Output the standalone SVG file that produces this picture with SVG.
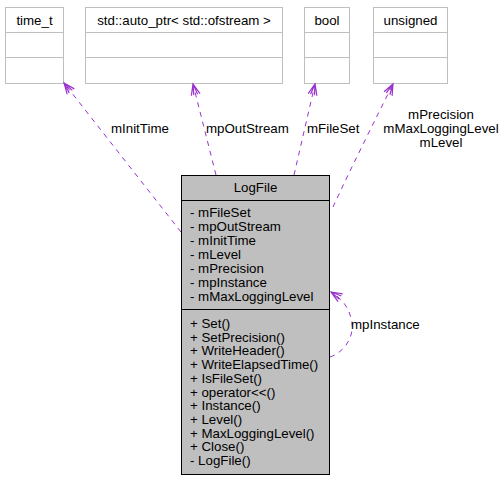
<svg xmlns="http://www.w3.org/2000/svg" width="501" height="480" viewBox="0 0 501 480">
<style>
text{font-family:"Liberation Sans",Arial,sans-serif;font-size:13.3px;fill:#000}
.c{text-anchor:middle}
.ext{fill:#fff;stroke:#bfbfbf;stroke-width:1}
.sep{stroke:#bfbfbf;stroke-width:1}
.main{fill:#bfbfbf;stroke:#000;stroke-width:1}
.msep{stroke:#000;stroke-width:1}
.e{fill:none;stroke:#9a32cd;stroke-width:1;stroke-dasharray:5,5;marker-end:url(#ah)}
</style>
<defs>
<marker id="ah" markerUnits="userSpaceOnUse" markerWidth="14" markerHeight="14" viewBox="-12 -7 14 14" refX="0" refY="0" orient="auto">
<path d="M-11,-4.5 L0,0 L-11,4.5 M-11,-2 L0,0 L-11,2" fill="none" stroke="#9a32cd" stroke-width="1.2"/>
</marker>
</defs>
<rect width="501" height="480" fill="#fff"/>
<g id="time_t">
<rect class="ext" x="5.5" y="7.5" width="58" height="76"/>
<line class="sep" x1="5.5" y1="32.5" x2="63.5" y2="32.5"/>
<line class="sep" x1="5.5" y1="57.5" x2="63.5" y2="57.5"/>
<text class="c" x="34.5" y="25">time_t</text>
</g>
<g id="auto_ptr">
<rect class="ext" x="85.5" y="7.5" width="197" height="76"/>
<line class="sep" x1="85.5" y1="32.5" x2="282.5" y2="32.5"/>
<line class="sep" x1="85.5" y1="57.5" x2="282.5" y2="57.5"/>
<text class="c" x="184" y="25">std::auto_ptr&lt; std::ofstream &gt;</text>
</g>
<g id="bool">
<rect class="ext" x="304.5" y="7.5" width="45" height="76"/>
<line class="sep" x1="304.5" y1="32.5" x2="349.5" y2="32.5"/>
<line class="sep" x1="304.5" y1="57.5" x2="349.5" y2="57.5"/>
<text class="c" x="327" y="25">bool</text>
</g>
<g id="unsigned">
<rect class="ext" x="373.5" y="7.5" width="74" height="76"/>
<line class="sep" x1="373.5" y1="32.5" x2="447.5" y2="32.5"/>
<line class="sep" x1="373.5" y1="57.5" x2="447.5" y2="57.5"/>
<text class="c" x="410.5" y="25">unsigned</text>
</g>
<g id="LogFile">
<rect class="main" x="181.5" y="175.5" width="148" height="299"/>
<line class="msep" x1="181.5" y1="200.5" x2="329.5" y2="200.5"/>
<line class="msep" x1="181.5" y1="309.5" x2="329.5" y2="309.5"/>
<text class="c" x="255.5" y="192">LogFile</text>
<text x="190" y="217">- mFileSet</text>
<text x="190" y="231">- mpOutStream</text>
<text x="190" y="245">- mInitTime</text>
<text x="190" y="259">- mLevel</text>
<text x="190" y="273">- mPrecision</text>
<text x="190" y="287">- mpInstance</text>
<text x="190" y="301">- mMaxLoggingLevel</text>
<text x="190" y="328">+ Set()</text>
<text x="190" y="341.7">+ SetPrecision()</text>
<text x="190" y="355.4">+ WriteHeader()</text>
<text x="190" y="369.1">+ WriteElapsedTime()</text>
<text x="190" y="382.8">+ IsFileSet()</text>
<text x="190" y="396.5">+ operator&lt;&lt;()</text>
<text x="190" y="410.2">+ Instance()</text>
<text x="190" y="423.9">+ Level()</text>
<text x="190" y="437.6">+ MaxLoggingLevel()</text>
<text x="190" y="451.3">+ Close()</text>
<text x="190" y="465">- LogFile()</text>
</g>
<g id="connectors">
<path class="e" d="M181,232 L64,83"/>
<path class="e" d="M216,175 L193,84"/>
<path class="e" d="M294,175 L315,84"/>
<path class="e" d="M333,207 C350,170 375,120 393,84"/>
<path class="e" d="M330,357 C345,352 356,335 351,318 C348,306 341,298 331,292"/>
<text x="111" y="133">mInitTime</text>
<text x="206" y="133">mpOutStream</text>
<text x="307" y="133">mFileSet</text>
<text class="c" x="441" y="119">mPrecision</text>
<text class="c" x="441" y="133">mMaxLoggingLevel</text>
<text class="c" x="441" y="147">mLevel</text>
<text x="351" y="329">mpInstance</text>
</g>
</svg>
